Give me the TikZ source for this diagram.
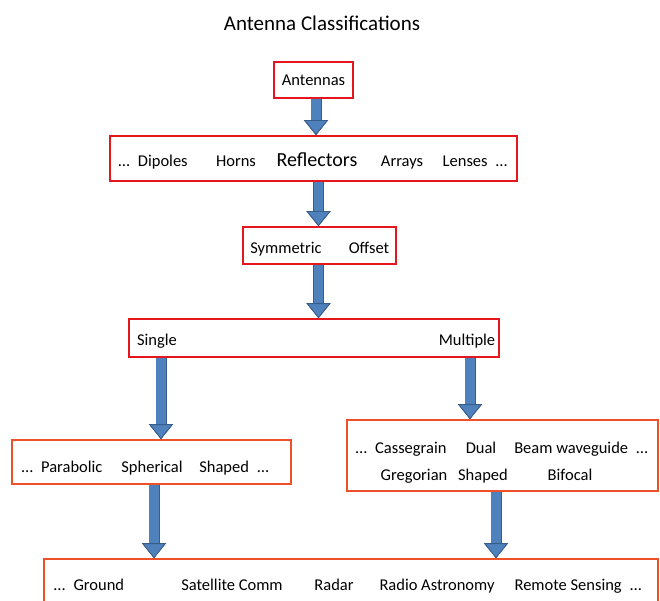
\documentclass[tikz,border=0pt]{standalone}
\usepackage{fontspec}
\setmainfont{Carlito}
\usetikzlibrary{arrows.meta}

\definecolor{boxred}{RGB}{228,22,30}
\definecolor{boxorange}{RGB}{238,80,42}
\definecolor{arrowblue}{RGB}{79,129,189}
\definecolor{arrowedge}{RGB}{56,93,138}

\begin{document}
\begin{tikzpicture}[x=1pt, y=-1pt,
  redbox/.style={draw=boxred, line width=1.6pt, fill=white, inner sep=0pt},
  orangebox/.style={redbox, draw=boxorange},
  word/.style={anchor=base, inner sep=0pt, font=\fontsize{16.5}{18}\selectfont},
  blockarrow/.style={draw=arrowblue, line width=9.4pt,
    -{Triangle[width=24pt, length=15pt, line width=0.8pt, fill=arrowblue, color=arrowedge]},
    preaction={draw=arrowedge, line width=11pt,
    -{Triangle[width=24pt, length=15pt, line width=0.8pt, fill=arrowedge, color=arrowedge]}}}]
\useasboundingbox (0,0) rectangle (660,601);

\node [word, font=\fontsize{21}{24}\selectfont] (title) at (322,31) {Antenna Classifications};

% boxes
\node [redbox, minimum width=79, minimum height=36, font=\fontsize{16.5}{18}\selectfont] (antennas) at (313.5,80) {Antennas};
\node [redbox, minimum width=407, minimum height=45] (types) at (313.5,158.5) {};
\node [redbox, minimum width=153, minimum height=37] (symm) at (319.5,245.5) {};
\node [redbox, minimum width=370, minimum height=38] (number) at (314,338) {};
\node [orangebox, minimum width=279, minimum height=44] (single) at (151.5,462) {};
\node [orangebox, minimum width=311, minimum height=71] (multi) at (502.5,455.5) {};
\node [orangebox, minimum width=614, minimum height=51] (apps) at (351,584.5) {};

% texts in the boxes
\node [word] (dipoles) at (153,167) {…\enspace Dipoles};
\node [word] (horns) at (236,167) {Horns};
\node [word, font=\fontsize{20}{22}\selectfont] (reflectors) at (317,167) {Reflectors};
\node [word] (arrays) at (402,167) {Arrays};
\node [word] (lenses) at (475,167) {Lenses\enspace …};

\node [word] (symmetric) at (286,254) {Symmetric};
\node [word] (offset) at (369,254) {Offset};

\node [word] (singlefeed) at (157,345) {Single};
\node [word] (multifeed) at (467,345) {Multiple};

\node [word] (parabolic) at (62,472) {…\enspace Parabolic};
\node [word] (spherical) at (152,472) {Spherical};
\node [word] (shaped) at (234,472) {Shaped\enspace …};

\node [word] (cassegrain) at (401,453) {…\enspace Cassegrain};
\node [word] (dual) at (481,453) {Dual};
\node [word] (beamwg) at (581,453) {Beam waveguide\enspace …};
\node [word] (gregorian) at (414,480) {Gregorian};
\node [word] (dualshaped) at (483,480) {Shaped};
\node [word] (bifocal) at (570,480) {Bifocal};

\node [word] (ground) at (89,590) {…\enspace Ground};
\node [word] (satcom) at (232,590) {Satellite Comm};
\node [word] (radar) at (334,590) {Radar};
\node [word] (radioastro) at (437,590) {Radio Astronomy};
\node [word] (remote) at (578,590) {Remote Sensing\enspace …};

% arrows
\draw [blockarrow] (antennas.south -| 316,0) -- (types.north -| 316,0);
\draw [blockarrow] (types.south -| 318.5,0) -- (symm.north -| 318.5,0);
\draw [blockarrow] (symm.south -| 318.5,0) -- (number.north -| 318.5,0);
\draw [blockarrow] (number.south -| 161,0) -- (single.north -| 161,0);
\draw [blockarrow] (number.south -| 470,0) -- (multi.north -| 470,0);
\draw [blockarrow] (single.south -| 154,0) -- (apps.north -| 154,0);
\draw [blockarrow] (multi.south -| 496,0) -- (apps.north -| 496,0);
\end{tikzpicture}
\end{document}
